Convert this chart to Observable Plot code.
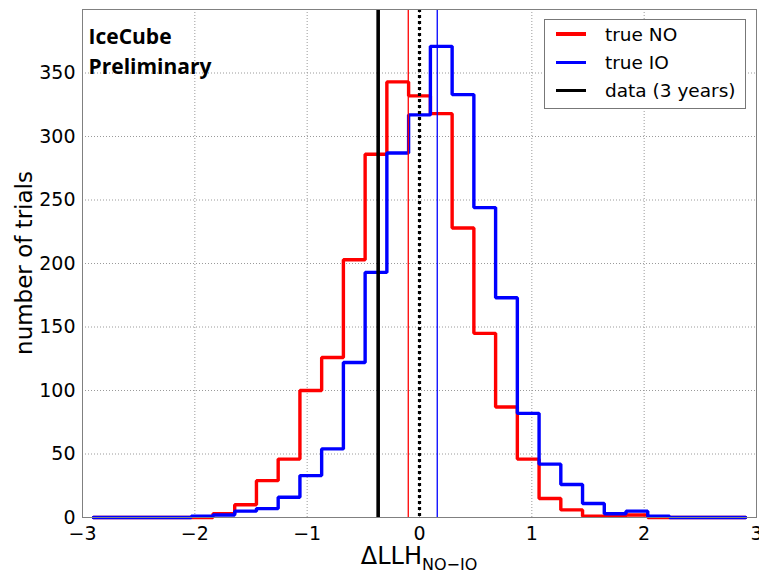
<!DOCTYPE html>
<html><head><meta charset="utf-8">
<script src="https://cdn.jsdelivr.net/npm/d3@7"></script>
<script src="https://cdn.jsdelivr.net/npm/@observablehq/plot@0.6"></script>
<style>
body{margin:0;background:#fff;}
#wrap{position:relative;width:759px;height:573px;font-family:"DejaVu Sans",sans-serif;}
#legend{position:absolute;left:544px;top:19px;width:202px;height:90px;border:1px solid #777;background:#fff;box-sizing:border-box;}
.item{position:absolute;left:11px;height:22px;display:flex;align-items:center;font-size:18.5px;color:#000;white-space:nowrap;}
.sw{width:30px;height:3.4px;margin-right:19px;}
</style></head><body><div id="wrap"></div>
<script>
// bin centres of the 31 bins between -3 and 3
const binCenters = [-2.903,-2.710,-2.516,-2.323,-2.129,-1.935,-1.742,-1.548,-1.355,-1.161,-0.968,-0.774,-0.581,-0.387,-0.194,0.000,0.194,0.387,0.581,0.774,0.968,1.161,1.355,1.548,1.742,1.935,2.129,2.323,2.516,2.710,2.903];
const countsNO = [0,0,0,0,0,0,3,10,29,46,100,126,203,286,343,332,318,228,145,87,46,15,6,1,1,2,0,0,0,0,0];
const countsIO = [0,0,0,0,0,1,2,5,7,16,33,54,122,193,287,317,371,333,244,173,82,42,26,11,3,5,1,0,0,0,0];
const seriesNames = ["true NO","true IO"];
const seriesColors = ["#ff0000","#0000ff"];
const legendNames = ["true NO","true IO","data (3 years)"];
const legendColors = ["#ff0000","#0000ff","#000000"];
const medianNO = -0.10;
const medianIO = 0.158;
const dataLLH = -0.368;
const zeroLine = 0;
const xTicks = [-3,-2,-1,0,1,2,3];
const yTicks = [0,50,100,150,200,250,300,350];
const labelText = ["IceCube\nPreliminary"];

const rows = [];
binCenters.forEach((c,i)=>rows.push({x:c, n:countsNO[i], s:seriesNames[0]}));
binCenters.forEach((c,i)=>rows.push({x:c, n:countsIO[i], s:seriesNames[1]}));

const gridStyle = {stroke:"#9a9a9a", strokeOpacity:1, strokeWidth:1, strokeDasharray:"1,2"};

const chart = Plot.plot({
  width:759, height:573,
  marginLeft:82, marginRight:3, marginTop:9, marginBottom:56,
  style:{fontFamily:"DejaVu Sans", fontSize:"19px", color:"#000", background:"#fff"},
  x:{domain:[-3,3]},
  y:{domain:[0,400]},
  color:{domain:seriesNames, range:seriesColors},
  marks:[
    Plot.gridX(xTicks, gridStyle),
    Plot.gridY(yTicks, gridStyle),
    Plot.lineY(rows,{x:"x", y:"n", stroke:"s", z:"s", curve:"step", strokeWidth:3.4, strokeLinejoin:"miter"}),
    Plot.ruleX([medianNO],{stroke:seriesColors[0], strokeWidth:1.3}),
    Plot.ruleX([medianIO],{stroke:seriesColors[1], strokeWidth:1.3}),
    Plot.ruleX([dataLLH],{stroke:"#000", strokeWidth:3.6}),
    Plot.ruleX([zeroLine],{stroke:"#000", strokeWidth:3.2, strokeDasharray:"3,3"}),
    Plot.frame({stroke:"#808080"}),
    Plot.axisX(xTicks,{tickSize:0, tickPadding:9, fontSize:19, label:null, tickFormat:d=>d<0?"\u2212"+Math.abs(d):String(d)}),
    Plot.axisY(yTicks,{tickSize:0, tickPadding:7, fontSize:19, label:null}),
    Plot.text(labelText,{frameAnchor:"top-left", dx:6, dy:13, lineAnchor:"top", lineHeight:1.43, fontSize:21, fontWeight:"bold", fontFamily:"Open Sans", textAnchor:"start", fill:"#000"})
  ]
});

const wrap = document.getElementById("wrap");
wrap.appendChild(chart);

// axis titles
const svg = d3.select(chart);
const xl = svg.append("text").attr("x",419).attr("y",564).attr("text-anchor","middle")
  .attr("font-family","DejaVu Sans").attr("font-size",24).attr("fill","#000");
xl.append("tspan").text("\u0394LLH");
xl.append("tspan").attr("dy",6).attr("font-size",16).text("NO\u2212IO");
svg.append("text").attr("transform","translate(32,263) rotate(-90)").attr("text-anchor","middle")
  .attr("font-family","DejaVu Sans").attr("font-size",23).attr("fill","#000").text("number of trials");

// legend
const lg = document.createElement("div");
lg.id = "legend";
const centersY = [14, 42.7, 70.7];
legendNames.forEach((name,i)=>{
  const it = document.createElement("div");
  it.className = "item";
  it.style.top = (centersY[i]-11)+"px";
  const sw = document.createElement("div");
  sw.className = "sw";
  sw.style.background = legendColors[i];
  const tx = document.createElement("span");
  tx.textContent = name;
  it.appendChild(sw); it.appendChild(tx);
  lg.appendChild(it);
});
wrap.appendChild(lg);
</script>
</body></html>
